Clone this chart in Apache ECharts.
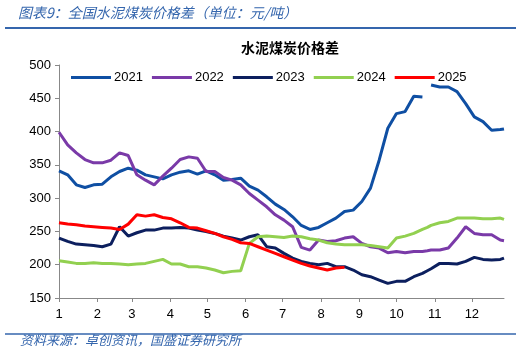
<!DOCTYPE html>
<html>
<head>
<meta charset="utf-8">
<script src="https://cdn.jsdelivr.net/npm/echarts@6/dist/echarts.min.js"></script>
<style>
html,body{margin:0;padding:0;background:#fff;}
#chart{width:521px;height:358px;}
</style>
</head>
<body>
<div id="chart"></div>
<script>
// day-of-year sample points
var days = [1,8,15,22,29,36,43,50,57,64,71,78,85,92,99,106,113,120,127,134,141,148,155,162,169,176,183,190,197,204,211,218,225,232,239,246,253,260,267,274,281,288,295,299,302,309,316,323,330,337,344,351,358,361];
// month start days and tick labels
var monthStarts = [1,32,60,91,121,152,182,213,244,274,305,335];
var monthLabels = ['1','2','3','4','5','6','7','8','9','10','11','12'];
var seriesNames = ['2021','2022','2023','2024','2025'];

var v2021 = [341,335,320,316,320,321,332,340,345,342,335,332,329,335,339,341,336,341,335,327,328,330,318,312,302,291,283,272,259,253,256,263,270,280,282,295,315,357,405,427,430,453,452,null,470,467,467,460,442,422,415,402,403,404];
var v2022 = [399,380,368,358,353,353,357,368,364,335,327,320,333,345,358,362,360,340,340,331,327,320,307,297,287,275,267,257,226,222,237,235,236,240,242,232,227,225,218,220,218,220,220,221,222,222,225,240,257,247,245,245,237,236];
var v2023 = [240,235,231,230,229,227,231,257,243,248,252,252,255,255,256,255,252,250,247,243,240,237,242,245,227,225,217,210,205,202,200,202,197,197,192,185,182,177,172,175,175,182,187,191,194,202,202,201,205,211,208,207,208,210];
var v2024 = [206,204,202,202,203,202,202,201,200,201,202,205,208,201,201,197,197,195,192,188,190,191,232,242,243,242,241,243,242,239,237,233,231,230,230,230,229,227,225,240,243,247,253,256,259,263,265,270,270,270,269,269,270,268];
var v2025 = [263,261,260,258,257,256,255,253,261,275,273,275,271,269,263,256,255,251,247,242,238,233,232,227,222,217,212,207,202,198,195,192,195,196,null,null,null,null,null,null,null,null,null,null,null,null,null,null,null,null,null,null,null,null];

var colors = ['#0f4fa3','#7a3aa8','#0c1f5e','#92d050','#ff0000'];
var allVals = [v2021,v2022,v2023,v2024,v2025];

function pairs(vals){
  return days.map(function(d,i){ return [d, vals[i] == null ? '-' : vals[i]]; });
}

var chart = echarts.init(document.getElementById('chart'), null, {renderer:'canvas'});
var blue = '#3566ad';
var option = {
  animation:false,
  backgroundColor:'#fff',
  color: colors,
  grid:{left:59,right:17,top:65,bottom:60,containLabel:false},
  legend:{
    data: seriesNames,
    top:66,left:66,
    icon:'rect',
    itemWidth:40,itemHeight:3,itemGap:9,
    textStyle:{fontFamily:'Liberation Sans',fontSize:13,color:'#000',padding:[0,0,0,-2]}
  },
  xAxis:{
    type:'value',min:1,max:361,
    axisLine:{show:true,lineStyle:{color:'#888',width:1}},
    axisTick:{show:true,customValues:monthStarts,length:4,lineStyle:{color:'#888'}},
    axisLabel:{customValues:monthStarts,fontFamily:'Liberation Sans',fontSize:13,color:'#000',margin:10,
      formatter:function(v){var k=monthStarts.indexOf(v);return k<0?'':monthLabels[k];}},
    splitLine:{show:false}
  },
  yAxis:{
    type:'value',min:150,max:500,interval:50,
    axisLine:{show:true,lineStyle:{color:'#888',width:1}},
    axisTick:{show:true,length:4,lineStyle:{color:'#888'}},
    axisLabel:{fontFamily:'Liberation Sans',fontSize:13,color:'#000',margin:8},
    splitLine:{show:false}
  },
  series: seriesNames.map(function(n,i){
    return {name:n,type:'line',data:pairs(allVals[i]),showSymbol:false,symbol:'none',
      lineStyle:{width:3,color:colors[i]},itemStyle:{color:colors[i]},connectNulls:false};
  }),
  graphic:[
    {type:'text',left:18,top:6,style:{text:'图表9：全国水泥煤炭价格差（单位：元/吨）',font:'italic 14px "Noto Sans CJK SC"',fill:blue}},
    {type:'line',shape:{x1:5,y1:28,x2:516,y2:28},style:{stroke:blue,lineWidth:2}},
    {type:'text',x:290,y:48,style:{text:'水泥煤炭价格差',font:'bold 14px "Noto Sans CJK SC"',fill:'#000',align:'center',verticalAlign:'middle'}},
    {type:'line',shape:{x1:5,y1:334,x2:516,y2:334},style:{stroke:blue,lineWidth:1.5}},
    {type:'text',left:20,top:334,style:{text:'资料来源：卓创资讯，国盛证券研究所',font:'italic 13px "Noto Sans CJK SC"',fill:blue}}
  ]
};
chart.setOption(option);
</script>
</body>
</html>
